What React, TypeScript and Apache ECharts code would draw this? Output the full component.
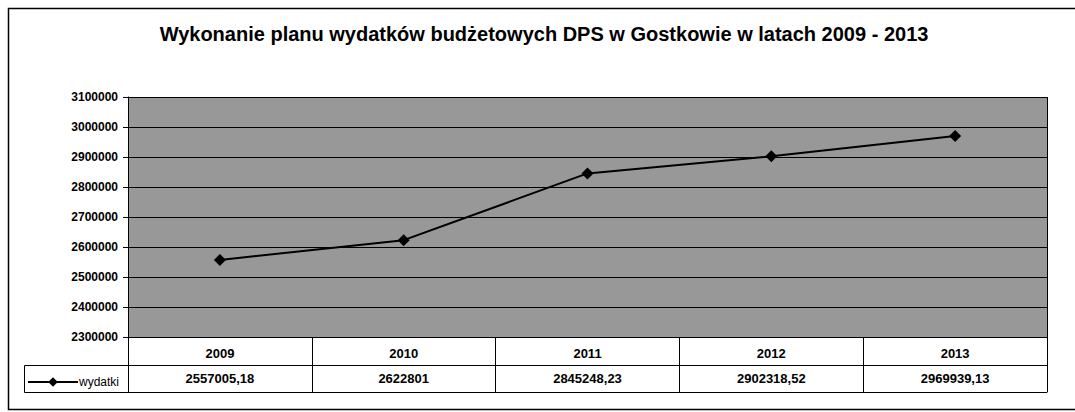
import React, { useEffect, useRef } from "react";
import * as echarts from "echarts";

const title = "Wykonanie planu wydatków budżetowych DPS w Gostkowie w latach 2009 - 2013";
const seriesName = "wydatki";
const years = ["2009", "2010", "2011", "2012", "2013"];
const wydatki = [2557005.18, 2622801, 2845248.23, 2902318.52, 2969939.13];
const yMin = 2300000;
const yMax = 3100000;
const yStep = 100000;

const fmt = (v: number) => String(v).replace(".", ",");

export default function App() {
  const ref = useRef<HTMLDivElement>(null);
  useEffect(() => {
    const chart = echarts.init(ref.current!, null, { renderer: "svg" });
    const font = "Liberation Sans, Arial, sans-serif";
    chart.setOption({
      animation: false,
      backgroundColor: "#ffffff",
      title: {
        text: title,
        left: 539,
        textAlign: "center",
        top: 19,
        textStyle: { fontFamily: font, fontSize: 20, fontWeight: "bold", color: "#000" },
      },
      legend: {
        left: 22,
        top: 371,
        itemWidth: 50,
        itemHeight: 12,
        itemGap: 0,
        data: [seriesName],
        textStyle: { fontFamily: font, fontSize: 12, color: "#000", padding: [0, 0, 0, -4] },
      },
      grid: {
        left: 128,
        right: 28,
        top: 97,
        bottom: 75,
        show: true,
        backgroundColor: "#989898",
        borderWidth: 0,
      },
      xAxis: [
        {
          type: "category",
          data: years,
          boundaryGap: true,
          position: "bottom",
          axisLine: { show: true, lineStyle: { color: "#000", width: 1 } },
          axisTick: { show: true, length: 55, lineStyle: { color: "#000", width: 1 } },
          axisLabel: { margin: 10, color: "#000", fontFamily: font, fontSize: 13, fontWeight: "bold" },
          splitLine: { show: false },
        },
        {
          type: "category",
          data: wydatki.map(fmt),
          boundaryGap: true,
          position: "bottom",
          offset: 28,
          axisLine: { show: true, lineStyle: { color: "#000", width: 1 } },
          axisTick: { show: false },
          axisLabel: { margin: 7, color: "#000", fontFamily: font, fontSize: 13, fontWeight: "bold" },
        },
        {
          type: "category",
          data: years,
          boundaryGap: true,
          position: "bottom",
          offset: 55,
          axisLine: { show: true, lineStyle: { color: "#000", width: 1 } },
          axisTick: { show: false },
          axisLabel: { show: false },
        },
      ],
      yAxis: {
        type: "value",
        min: yMin,
        max: yMax,
        interval: yStep,
        axisLine: { show: true, lineStyle: { color: "#000", width: 1 } },
        axisTick: { show: true, length: 5, lineStyle: { color: "#000" } },
        axisLabel: {
          margin: 10,
          color: "#000",
          fontFamily: font,
          fontSize: 12,
          fontWeight: "bold",
          formatter: (v: number) => String(v),
        },
        splitLine: { show: true, lineStyle: { color: "#000", width: 1 } },
      },
      graphic: [
        {
          type: "rect",
          shape: { x: 8.5, y: 8.5, width: 1080, height: 401 },
          style: { fill: "none", stroke: "#000", lineWidth: 1.5 },
          silent: true,
        },
        {
          type: "rect",
          shape: { x: 24.5, y: 365.5, width: 104, height: 27 },
          style: { fill: "none", stroke: "#000", lineWidth: 1 },
          silent: true,
        },
        {
          type: "line",
          shape: { x1: 1047.5, y1: 97, x2: 1047.5, y2: 337 },
          style: { stroke: "#000", lineWidth: 1 },
          silent: true,
        },
      ],
      series: [
        {
          name: seriesName,
          type: "line",
          data: wydatki,
          symbol: "diamond",
          symbolSize: 12,
          itemStyle: { color: "#000" },
          lineStyle: { color: "#000", width: 2 },
        },
      ],
    });
    return () => chart.dispose();
  }, []);
  return (
    <div
      ref={ref}
      style={{ position: "fixed", left: 0, top: 0, width: 1075, height: 412 }}
    />
  );
}
